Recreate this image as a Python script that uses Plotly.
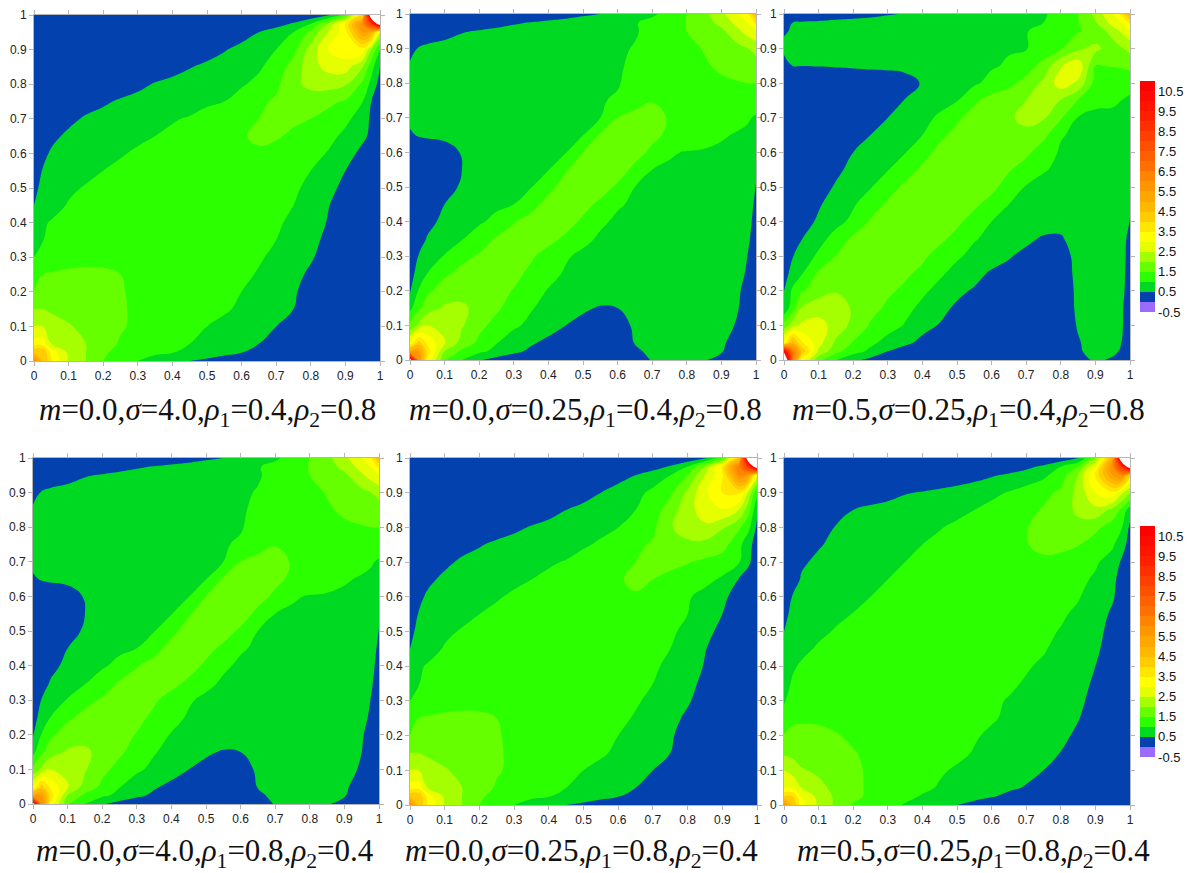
import plotly.graph_objects as go

GRID = [0,.025,.05,.1,.15,.2,.25,.3,.35,.4,.45,.5,.55,.6,.65,.7,.75,.8,.85,.9,.95,.975,1]
TICK_VALUES = [0,.1,.2,.3,.4,.5,.6,.7,.8,.9,1]
TICK_LABELS = ["0","0.1","0.2","0.3","0.4","0.5","0.6","0.7","0.8","0.9","1"]
BAR_TICKS = [-0.5,0.5,1.5,2.5,3.5,4.5,5.5,6.5,7.5,8.5,9.5,10.5]
BAR_LABELS = ["-0.5","0.5","1.5","2.5","3.5","4.5","5.5","6.5","7.5","8.5","9.5","10.5"]
LEVEL_START, LEVEL_END, LEVEL_STEP = 0, 11, 0.5

# each row is one y value of GRID, from y=0 upwards
Z_RHO_HIGH_LOW_ROWS = [
[6,4.5,3.5,2.42,2,1.5,1.3,1,.85,.65,.5,.4,.25,.15,.1,.06,.04,.03,.02,.01,.01,.01,.01],
[4.5,4.5,3.3,2.4,2,1.55,1.4,1.17,1.07,1.02,.87,.75,.65,.52,.3,.15,.07,.03,.02,.01,.01,.01,.01],
[3.2,3.3,2.5,2.25,2,1.7,1.45,1.35,1.2,1.1,1,.87,.78,.65,.5,.3,.15,.05,.02,.01,.01,.01,.01],
[2.5,2.5,2.3,2.05,1.85,1.7,1.55,1.4,1.3,1.2,1.1,1,.9,.8,.65,.5,.25,.08,.03,.01,.01,.01,.01],
[2,2,1.9,1.8,1.7,1.6,1.55,1.42,1.35,1.27,1.2,1.12,1.05,.93,.76,.6,.5,.25,.08,.02,.01,.01,.01],
[1.5,1.6,1.65,1.65,1.62,1.58,1.53,1.42,1.36,1.3,1.25,1.2,1.13,1,.87,.7,.56,.3,.1,.03,.01,.01,.01],
[1.3,1.5,1.53,1.55,1.56,1.55,1.5,1.42,1.36,1.32,1.27,1.22,1.17,1.1,.96,.8,.63,.42,.2,.06,.02,.01,.01],
[1,1.2,1.3,1.4,1.42,1.42,1.4,1.35,1.32,1.3,1.27,1.25,1.2,1.15,1.05,.9,.73,.55,.3,.1,.03,.01,.01],
[.85,.98,1.12,1.22,1.27,1.3,1.3,1.3,1.3,1.28,1.27,1.25,1.22,1.18,1.12,1,.83,.62,.4,.18,.05,.02,.01],
[.7,.95,1.03,1.13,1.18,1.22,1.25,1.27,1.27,1.27,1.27,1.27,1.25,1.22,1.15,1.05,.93,.72,.47,.25,.08,.03,.01],
[.5,.68,.85,1.03,1.1,1.15,1.2,1.22,1.25,1.27,1.27,1.27,1.27,1.27,1.22,1.12,1,.8,.52,.3,.1,.05,.01],
[.4,.6,.72,.93,1.03,1.1,1.15,1.2,1.22,1.25,1.27,1.27,1.27,1.27,1.25,1.18,1.08,.88,.63,.38,.12,.05,.01],
[.25,.52,.62,.78,.9,1,1.07,1.12,1.17,1.2,1.25,1.27,1.3,1.33,1.33,1.28,1.18,1,.78,.5,.22,.1,.02],
]

Z_A = Z_RHO_HIGH_LOW_ROWS + [
[.15,.4,.55,.68,.78,.87,.97,1.05,1.1,1.15,1.2,1.27,1.33,1.47,1.42,1.35,1.27,1.15,.97,.7,.37,.2,.05],
[.08,.22,.4,.58,.68,.75,.83,.93,1,1.07,1.15,1.22,1.3,1.45,1.6,1.55,1.42,1.3,1.13,.9,.6,.4,.1],
[.04,.12,.22,.4,.55,.63,.73,.83,.9,.97,1.03,1.15,1.27,1.38,1.5,1.6,1.58,1.5,1.35,1.1,.8,.4,.15],
[.02,.05,.1,.22,.33,.44,.55,.63,.7,.78,.85,.93,1,1.2,1.4,1.57,1.75,1.7,1.6,1.45,1,.5,.25],
[.01,.02,.04,.08,.13,.2,.28,.4,.53,.6,.68,.78,.87,.95,1.13,1.4,1.85,2.15,2.2,2.05,1.4,.85,.3],
[.01,.01,.02,.03,.05,.08,.12,.18,.26,.37,.48,.58,.68,.8,.93,1.22,1.7,2.3,2.65,2.75,2,1.2,.5],
[.01,.01,.01,.02,.02,.03,.05,.08,.11,.15,.22,.33,.47,.62,.82,1,1.35,2.2,3,3.3,3.3,2,1],
[.01,.01,.01,.01,.01,.02,.02,.02,.02,.02,.05,.1,.2,.33,.5,.75,1,1.6,2.5,3.3,5.5,5,2.5],
[.01,.01,.01,.01,.01,.01,.01,.01,.01,.01,.01,.01,.03,.07,.15,.3,.55,1,2,3.5,6,8.5,12.5],
[.01,.01,.01,.01,.01,.01,.01,.01,.01,.01,.01,.01,.01,.01,.01,.01,.03,.1,.4,1.2,4,13,16],
]

Z_B = [
[12,6,3.4,1.55,1,.55,.3,.2,.15,.1,.1,.1,.1,.1,.15,.55,.6,.6,.55,.3,.1,.05,.02],
[5,5.5,3.8,2,1.4,1.1,.88,.6,.42,.3,.22,.18,.15,.12,.42,.6,.65,.65,.6,.55,.12,.07,.03],
[3,4.2,3.4,2.55,1.8,1.4,1.02,.78,.55,.4,.3,.22,.18,.2,.52,.65,.7,.7,.68,.6,.22,.1,.05],
[1.65,2.1,2.5,2.35,2.05,1.62,1.35,1.07,.9,.67,.5,.4,.3,.28,.58,.72,.75,.78,.78,.72,.42,.2,.1],
[.85,1.4,1.75,2.07,2.1,1.83,1.58,1.3,1.03,.87,.7,.55,.47,.5,.68,.78,.8,.82,.82,.8,.5,.25,.12],
[.45,1.03,1.4,1.72,1.8,1.75,1.62,1.48,1.2,.97,.85,.75,.68,.7,.75,.82,.83,.85,.85,.83,.55,.33,.15],
[.3,.7,1,1.42,1.62,1.68,1.68,1.6,1.42,1.15,.95,.85,.8,.78,.8,.85,.85,.87,.87,.85,.68,.42,.18],
[.15,.52,.72,1.03,1.38,1.55,1.65,1.68,1.55,1.35,1.05,.9,.83,.8,.82,.85,.87,.88,.88,.87,.75,.5,.2],
[.08,.33,.53,.78,.97,1.25,1.55,1.68,1.72,1.62,1.42,1.12,.93,.85,.85,.87,.88,.9,.9,.88,.8,.6,.25],
[.04,.18,.38,.6,.77,.93,1.13,1.47,1.68,1.75,1.68,1.42,1.08,.92,.88,.88,.9,.9,.9,.88,.83,.7,.3],
[.02,.08,.2,.5,.65,.78,.9,1,1.32,1.68,1.78,1.65,1.4,1.05,.93,.9,.92,.92,.92,.9,.85,.78,.38],
[.01,.04,.1,.27,.58,.7,.8,.9,.98,1.35,1.72,1.8,1.7,1.42,1,.93,.93,.93,.93,.92,.88,.82,.48],
[.01,.02,.05,.18,.5,.68,.78,.85,.92,.98,1.45,1.75,1.85,1.72,1.38,1,.96,.95,.95,.93,.9,.87,.58],
[.02,.03,.08,.2,.55,.68,.76,.82,.88,.93,.98,1.5,1.8,1.85,1.68,1.4,1.03,.98,.96,.95,.92,.9,.7],
[.42,.55,.6,.67,.72,.76,.8,.84,.87,.91,.95,.99,1.55,1.78,1.85,1.62,1.4,1.25,1.15,1.03,.97,.95,.88],
[.65,.68,.7,.74,.77,.8,.83,.86,.89,.92,.95,.97,1,1.5,1.7,1.7,1.45,1.3,1.22,1.15,1.08,1.03,.97],
[.67,.7,.72,.76,.79,.82,.85,.87,.9,.92,.94,.96,.98,1.03,1.25,1.47,1.5,1.38,1.3,1.27,1.22,1.18,1.12],
[.67,.7,.72,.76,.79,.82,.84,.86,.88,.9,.92,.94,.96,.98,1.1,1.2,1.27,1.3,1.35,1.42,1.47,1.5,1.5],
[.63,.66,.7,.74,.77,.8,.82,.84,.86,.88,.9,.92,.94,.97,1.05,1.15,1.25,1.33,1.44,1.58,1.72,1.75,1.72],
[.2,.55,.62,.68,.71,.74,.77,.79,.82,.85,.88,.9,.92,.95,1.02,1.13,1.25,1.37,1.53,1.72,1.87,1.97,2.2],
[.05,.1,.18,.32,.47,.53,.58,.62,.67,.72,.77,.82,.86,.91,.97,1.1,1.28,1.5,1.68,1.88,2.4,2.7,2.9],
[.02,.04,.07,.13,.2,.28,.38,.46,.52,.6,.68,.78,.83,.9,.97,1.12,1.3,1.52,1.78,2.15,2.7,3,3.6],
[.01,.01,.02,.03,.04,.06,.08,.1,.15,.2,.28,.4,.5,.65,.85,.93,1.15,1.5,1.85,2.38,2.95,3.4,4.8],
]

Z_C = [
[14,6.5,3.2,1.65,1.02,.62,.35,.2,.12,.08,.05,.03,.03,.03,.03,.03,.03,.03,.2,.62,.4,.15,.03],
[10.5,6.5,4.5,2.4,1.65,1.2,.9,.5,.35,.25,.2,.12,.1,.08,.07,.06,.06,.05,.42,.72,.65,.42,.05],
[3.2,4.8,3.6,2.7,1.9,1.46,1.1,.85,.57,.42,.3,.2,.15,.1,.08,.07,.07,.07,.45,.75,.72,.5,.06],
[1.7,2.25,2.6,2.7,2.3,1.85,1.45,1.17,.97,.6,.48,.35,.28,.2,.15,.12,.1,.1,.55,.78,.78,.6,.07],
[.6,1.3,2.02,2.25,2.2,1.95,1.65,1.42,1.12,.9,.62,.43,.35,.28,.2,.15,.13,.15,.6,.8,.82,.6,.15],
[.5,1.1,1.42,1.8,1.97,1.9,1.75,1.57,1.42,1.08,.87,.6,.45,.38,.3,.22,.17,.15,.62,.82,.83,.72,.12],
[.3,.68,.95,1.58,1.73,1.77,1.75,1.68,1.57,1.4,1.07,.85,.65,.43,.38,.3,.22,.2,.65,.85,.85,.75,.18],
[.18,.48,.68,1.1,1.52,1.65,1.72,1.74,1.7,1.58,1.33,1.06,.88,.72,.53,.4,.32,.25,.68,.87,.87,.78,.22],
[.1,.3,.48,.82,1.2,1.6,1.72,1.75,1.78,1.75,1.6,1.35,1.03,.9,.75,.58,.45,.45,.7,.88,.9,.82,.27],
[.06,.15,.3,.57,.85,1.12,1.55,1.72,1.8,1.85,1.75,1.6,1.3,1,.85,.75,.68,.65,.75,.9,.92,.87,.48],
[.03,.07,.18,.45,.7,.95,1.25,1.58,1.75,1.85,1.88,1.8,1.6,1.3,1,.87,.8,.77,.82,.92,.93,.9,.55],
[.02,.04,.1,.3,.55,.78,.97,1.28,1.6,1.78,1.88,1.9,1.85,1.65,1.25,.97,.88,.85,.85,.92,.95,.93,.62],
[.01,.02,.06,.18,.4,.63,.82,.98,1.27,1.6,1.8,1.9,1.92,1.85,1.55,1.25,1.03,.92,.87,.93,.95,.94,.68],
[.01,.02,.04,.1,.27,.5,.7,.85,.98,1.3,1.65,1.82,1.9,1.93,1.87,1.62,1.2,.95,.88,.93,.96,.95,.73],
[.01,.01,.02,.06,.15,.3,.5,.67,.83,1,1.38,1.65,1.82,1.9,1.95,1.9,1.65,1.03,.92,.93,.96,.96,.78],
[.01,.01,.01,.03,.08,.17,.33,.5,.67,.85,1.08,1.42,1.68,1.85,1.95,2.1,2.05,1.55,.97,.95,.97,.97,.85],
[.01,.01,.01,.02,.04,.08,.17,.33,.52,.68,.83,.98,1.42,1.7,1.85,2,2.25,1.98,1.47,1.05,1.02,1,.92],
[.01,.01,.01,.01,.02,.03,.06,.12,.25,.55,.68,.8,.93,1.15,1.35,1.7,2.1,2.75,2.4,1.3,1.22,1.2,1.15],
[.3,.5,.5,.52,.55,.58,.62,.64,.67,.7,.75,.8,.88,.95,1.06,1.25,1.68,2.45,2.85,1.48,1.52,1.55,1.65],
[.62,.72,.74,.76,.77,.78,.79,.8,.82,.83,.85,.87,.9,.92,.96,.98,1.18,1.45,1.9,2.15,1.7,1.95,2.15],
[.45,.55,.6,.62,.65,.68,.7,.72,.75,.77,.8,.82,.85,.88,.92,.97,1.2,1.38,1.47,1.62,2.25,2.55,2.95],
[.15,.5,.55,.57,.6,.62,.64,.67,.7,.72,.75,.78,.82,.85,.9,.95,1,1.25,1.48,1.95,2.7,3,3.6],
[.02,.05,.1,.2,.3,.35,.4,.47,.52,.58,.65,.7,.75,.82,.87,.92,.97,1.1,1.5,2.15,3,3.6,5],
]

Z_E = Z_RHO_HIGH_LOW_ROWS + [
[.15,.42,.55,.68,.78,.87,.97,1.05,1.1,1.15,1.2,1.27,1.33,1.5,1.45,1.37,1.28,1.05,.85,.6,.3,.2,.05],
[.08,.25,.42,.58,.68,.75,.83,.93,1,1.07,1.15,1.22,1.3,1.45,1.6,1.5,1.38,1.25,1.13,.93,.45,.25,.08],
[.04,.12,.25,.42,.56,.64,.73,.83,.9,.96,1.02,1.15,1.27,1.38,1.5,1.65,1.62,1.53,1.4,1.25,1,.6,.18],
[.02,.05,.1,.24,.37,.47,.58,.65,.72,.8,.87,.95,1.06,1.27,1.42,1.55,1.8,1.88,1.85,1.7,1.12,.65,.3],
[.01,.02,.04,.08,.13,.2,.3,.42,.53,.6,.68,.78,.9,1,1.2,1.4,1.95,2.25,2.4,2.05,1.55,1.15,.4],
[.01,.01,.02,.03,.05,.08,.12,.18,.26,.38,.5,.6,.72,.83,1,1.25,1.75,2.3,2.75,2.95,2.45,1.7,.6],
[.01,.01,.01,.01,.02,.03,.05,.08,.11,.16,.24,.36,.5,.68,.87,1.1,1.4,2.1,2.9,3.5,3.6,2.4,1.1],
[.01,.01,.01,.01,.01,.02,.02,.02,.02,.02,.05,.1,.2,.33,.5,.75,1,1.5,2.5,3.4,6,5.5,2.8],
[.01,.01,.01,.01,.01,.01,.01,.01,.01,.01,.01,.01,.03,.07,.15,.3,.55,1,2,3.6,6.5,8.5,12.5],
[.01,.01,.01,.01,.01,.01,.01,.01,.01,.01,.01,.01,.01,.01,.01,.01,.03,.1,.4,1.3,4.5,13,16],
]

Z_F = [
[6,4.5,3.2,2.42,1.9,1.47,1.35,1.12,.97,.8,.65,.5,.35,.2,.12,.08,.05,.03,.02,.01,.01,.01,.01],
[4,4,2.95,2.35,1.9,1.6,1.42,1.27,1.1,.97,.85,.75,.65,.54,.4,.28,.18,.1,.05,.02,.01,.01,.01],
[3,2.95,2.5,2.15,1.85,1.6,1.43,1.3,1.18,1.07,.97,.85,.75,.67,.57,.47,.33,.2,.1,.05,.02,.01,.01],
[2.5,2.3,2.05,1.9,1.75,1.6,1.42,1.33,1.22,1.13,1.04,.96,.88,.8,.72,.62,.5,.33,.15,.07,.03,.02,.01],
[1.9,1.85,1.78,1.7,1.63,1.52,1.43,1.35,1.27,1.2,1.13,1.07,.98,.9,.82,.73,.62,.49,.27,.1,.04,.02,.01],
[1.52,1.6,1.6,1.58,1.52,1.45,1.39,1.33,1.28,1.22,1.17,1.1,1.03,.95,.87,.78,.68,.6,.42,.16,.06,.03,.01],
[1.2,1.43,1.45,1.45,1.42,1.38,1.33,1.3,1.26,1.22,1.18,1.13,1.07,1.03,.95,.85,.75,.65,.52,.3,.1,.05,.02],
[.95,1.22,1.3,1.33,1.33,1.31,1.28,1.26,1.24,1.21,1.18,1.14,1.1,1.05,.98,.9,.82,.7,.58,.38,.15,.07,.03],
[.85,1.05,1.15,1.22,1.24,1.25,1.24,1.23,1.21,1.2,1.17,1.15,1.12,1.08,1.05,.97,.87,.77,.65,.43,.18,.09,.04],
[.7,.95,1.05,1.13,1.18,1.2,1.2,1.2,1.2,1.18,1.17,1.15,1.13,1.1,1.07,1.03,.95,.83,.7,.5,.25,.12,.05],
[.6,.78,.9,1.05,1.12,1.15,1.17,1.18,1.18,1.18,1.17,1.16,1.14,1.12,1.1,1.07,1.03,.9,.75,.58,.3,.15,.07],
[.5,.65,.77,.92,1.03,1.08,1.12,1.15,1.17,1.17,1.17,1.17,1.15,1.13,1.12,1.1,1.07,.98,.85,.64,.35,.2,.1],
[.42,.58,.67,.8,.92,1.01,1.07,1.12,1.15,1.17,1.18,1.18,1.17,1.15,1.13,1.12,1.1,1.05,.93,.72,.42,.25,.12],
[.3,.52,.6,.7,.8,.9,1,1.07,1.12,1.17,1.2,1.22,1.22,1.2,1.18,1.17,1.15,1.12,1.03,.82,.55,.3,.15],
[.2,.35,.53,.63,.72,.8,.9,1,1.08,1.13,1.18,1.22,1.25,1.27,1.27,1.25,1.23,1.2,1.12,.93,.58,.38,.18],
[.1,.2,.45,.57,.65,.72,.82,.92,1,1.08,1.13,1.2,1.27,1.33,1.38,1.42,1.42,1.35,1.25,1.07,.78,.45,.22],
[.05,.1,.2,.47,.58,.67,.73,.82,.92,1,1.08,1.17,1.27,1.35,1.42,1.48,1.6,1.62,1.52,1.27,1.07,.72,.3],
[.03,.05,.1,.3,.53,.62,.68,.75,.82,.9,.98,1.07,1.2,1.3,1.38,1.47,1.7,1.8,1.85,1.62,1.25,1.05,.4],
[.01,.02,.05,.12,.22,.5,.62,.68,.73,.77,.82,.9,1,1.12,1.22,1.35,1.55,1.75,2.1,2.35,1.85,1.4,.75],
[.01,.01,.01,.02,.05,.1,.2,.33,.47,.53,.6,.67,.77,.9,1.03,1.18,1.35,1.6,2.15,3,3.4,2.6,2],
[.01,.01,.01,.01,.01,.02,.03,.05,.08,.12,.17,.25,.33,.45,.58,.73,.9,1.25,2,3.6,5.5,6,3.8],
[.01,.01,.01,.01,.01,.01,.01,.01,.01,.01,.03,.05,.08,.13,.22,.38,.6,1,1.5,3,6,8.5,12.5],
[.01,.01,.01,.01,.01,.01,.01,.01,.01,.01,.01,.01,.01,.01,.01,.01,.03,.15,.45,1.8,5,13,16],
]

for name, rows in [("A",Z_A),("B",Z_B),("C",Z_C),("E",Z_E),("F",Z_F)]:
    assert len(rows) == len(GRID), (name, len(rows))
    for i, r in enumerate(rows):
        assert len(r) == len(GRID), (name, i, len(r))

PANEL_Z = [Z_A, Z_B, Z_C, Z_B, Z_E, Z_F]
M_LABELS = ["0.0","0.0","0.5","0.0","0.0","0.5"]
SIGMA_LABELS = ["4.0","0.25","0.25","4.0","0.25","0.25"]
RHO1_LABELS = ["0.4","0.4","0.4","0.8","0.8","0.8"]
RHO2_LABELS = ["0.8","0.8","0.8","0.4","0.4","0.4"]

BAND_COLORS = ["#9B6BFF","#0341AE","#00D921","#2CFF00","#66FF00","#A6FF00","#E6FF00","#FFFF00",
               "#FFE600","#FFCC00","#FFB800","#FFA600","#FF9600","#FF8400","#FF7000","#FF6000",
               "#FF5000","#FF4000","#FF3000","#FF2000","#FF1400","#FF0A00","#FF0000","#FFFFFF"]

W, H = 1189, 873
RECTS = [(34,380,15,361),(410,756,14,360),(784,1130,14,360),
         (33,379,458,804),(410,757,458,805),(784,1130,458,805)]
CAPTION_POS = [(207,412),(585,412),(968,412),(205,853),(581,853),(973,853)]
BARS = [(81,312),(526,757)]

n = len(BAND_COLORS) - 1
contour_scale = [[j/n, c] for j, c in enumerate(BAND_COLORS)]
bar_colors = BAND_COLORS[:-1]
bar_scale = []
for j, c in enumerate(bar_colors):
    bar_scale += [[j/len(bar_colors), c], [(j+1)/len(bar_colors), c]]

fig = go.Figure()
layout = dict(width=W, height=H, margin=dict(l=0,r=0,t=0,b=0,autoexpand=False), paper_bgcolor="white",
              plot_bgcolor="white", showlegend=False, annotations=[])
axis_style = dict(range=[0,1], tickvals=TICK_VALUES, ticktext=TICK_LABELS, ticks="outside", ticklen=4,
                  tickcolor="#b5b5b5", tickwidth=1, showline=True, linecolor="#b5b5b5", linewidth=1,
                  mirror="ticks", showgrid=False, zeroline=False,
                  tickfont=dict(family="Liberation Sans", size=12, color="#222222"))
for i, (z, rect) in enumerate(zip(PANEL_Z, RECTS)):
    suffix = "" if i == 0 else str(i+1)
    fig.add_trace(go.Contour(x=GRID, y=GRID, z=z, xaxis="x"+suffix, yaxis="y"+suffix,
        autocontour=False, contours=dict(start=LEVEL_START, end=LEVEL_END, size=LEVEL_STEP, coloring="fill"),
        colorscale=contour_scale, line=dict(width=0, smoothing=1.3), showscale=False, hoverinfo="skip"))
    l, r, t, b = rect
    layout["xaxis"+suffix] = dict(axis_style, domain=[l/W, r/W], anchor="y"+suffix)
    layout["yaxis"+suffix] = dict(axis_style, domain=[1-b/H, 1-t/H], anchor="x"+suffix)
    cx, cy = CAPTION_POS[i]
    text = (f"<i>m</i>={M_LABELS[i]},<i>σ</i>={SIGMA_LABELS[i]},"
            f"<i>ρ</i><sub>1</sub>={RHO1_LABELS[i]},<i>ρ</i><sub>2</sub>={RHO2_LABELS[i]}")
    layout["annotations"].append(dict(text=text, x=cx/W, y=1-cy/H, xref="paper", yref="paper",
        showarrow=False, xanchor="center", yanchor="middle",
        font=dict(family="Liberation Serif", size=31, color="#111111")))

for (top, bottom), ax in zip(BARS, ["3", "6"]):
    fig.add_trace(go.Scatter(x=[None], y=[None], xaxis="x"+ax, yaxis="y"+ax, mode="markers",
        marker=dict(color=[0], cmin=-0.5, cmax=11, colorscale=bar_scale, showscale=True,
            colorbar=dict(x=1140/W, xanchor="left", y=1-(top+bottom)/2/H, yanchor="middle",
                lenmode="pixels", len=bottom-top, thicknessmode="pixels", thickness=15,
                xpad=0, ypad=0, outlinewidth=0, ticks="", tickvals=BAR_TICKS, ticktext=BAR_LABELS,
                tickfont=dict(family="Liberation Sans", size=13, color="#111111")))))

fig.update_layout(**layout)
fig.write_html("out.html", config={"displayModeBar": False},
               post_script="document.body.style.margin='0';")
